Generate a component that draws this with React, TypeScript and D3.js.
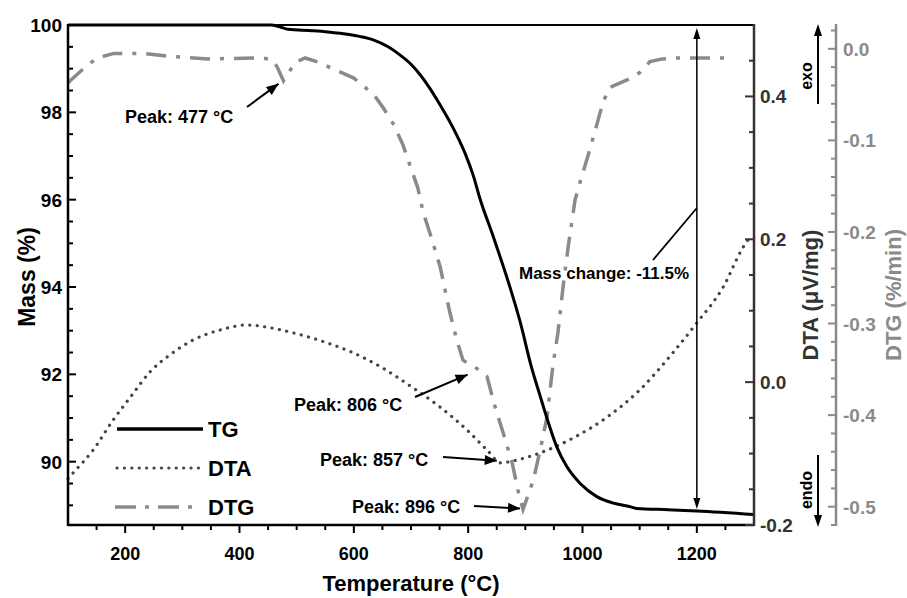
import React from 'react';
import * as d3 from 'd3';

// ---- data ----
const tgTemp = [100, 400, 455, 470, 485, 530, 576, 610, 634, 660, 681, 700, 716, 733, 751, 766, 780, 795, 809, 820, 844, 873, 891, 910, 926, 937, 955, 972, 996, 1025, 1054, 1080, 1095, 1150, 1200, 1300];
const tgMass = [100, 100, 100, 99.96, 99.9, 99.87, 99.81, 99.74, 99.66, 99.5, 99.31, 99.1, 98.86, 98.55, 98.17, 97.83, 97.48, 97.05, 96.55, 96.05, 95.15, 94.0, 93.2, 92.2, 91.5, 91.03, 90.34, 89.9, 89.5, 89.2, 89.05, 88.98, 88.93, 88.9, 88.87, 88.79];

const dtaTemp = [100, 109, 144, 179, 212, 243, 278, 319, 366, 413, 448, 494, 553, 599, 650, 698, 751, 798, 833, 857, 880, 926, 984, 1043, 1100, 1158, 1200, 1246, 1281, 1295];
const dtaVal = [-0.135, -0.127, -0.095, -0.053, -0.018, 0.014, 0.038, 0.059, 0.073, 0.08, 0.077, 0.069, 0.055, 0.041, 0.02, -0.005, -0.035, -0.067, -0.095, -0.113, -0.11, -0.099, -0.078, -0.049, -0.011, 0.041, 0.083, 0.133, 0.189, 0.205];

const dtgTemp = [100, 130, 151, 180, 230, 275, 345, 440, 458, 466, 477, 490, 500, 515, 540, 560, 600, 635, 652, 670, 686, 698, 712, 721, 735, 751, 768, 780, 791, 806, 815, 833, 847, 861, 877, 887, 896, 905, 914, 926, 938, 948, 957, 966, 975, 987, 996, 1010, 1025, 1036, 1048, 1078, 1100, 1118, 1140, 1165, 1205, 1255];
const dtgVal = [-0.037, -0.02, -0.01, -0.005, -0.005, -0.008, -0.011, -0.01, -0.012, -0.02, -0.035, -0.022, -0.014, -0.01, -0.015, -0.021, -0.032, -0.05, -0.065, -0.083, -0.105, -0.127, -0.152, -0.178, -0.205, -0.238, -0.288, -0.318, -0.34, -0.346, -0.349, -0.358, -0.391, -0.419, -0.452, -0.482, -0.503, -0.487, -0.471, -0.438, -0.402, -0.347, -0.31, -0.26, -0.216, -0.165, -0.145, -0.116, -0.083, -0.058, -0.042, -0.034, -0.026, -0.014, -0.011, -0.01, -0.01, -0.01];

const xTickValues = [200, 400, 600, 800, 1000, 1200];
const massTickValues = [90, 92, 94, 96, 98, 100];
const dtaTickValues = [-0.2, 0, 0.2, 0.4];
const dtgTickValues = [0, -0.1, -0.2, -0.3, -0.4, -0.5];
const legendNames = ['TG', 'DTA', 'DTG'];
const peakTemps = [477, 806, 857, 896];
const peakLabels = ['Peak: 477 °C', 'Peak: 806 °C', 'Peak: 857 °C', 'Peak: 896 °C'];
const massChangeLabel = 'Mass change: -11.5%';

const W = 907, H = 598;
const L = 68, R = 754, T = 25, B = 525;
const DTG_AXIS_X = 836;
const FONT = "'Liberation Sans', Arial, sans-serif";
const DTG_COLOR = '#8a8a8a';
const DTA_COLOR = '#454545';
const DTA_AXIS = '#333333';

const x = d3.scaleLinear().domain([100, 1300]).range([L, R]);
const yTG = d3.scaleLinear().domain([88.55, 100]).range([B, T]);
const yDTA = d3.scaleLinear().domain([-0.2, 0.5]).range([B, T]);
const yDTG = d3.scaleLinear().domain([-0.52, 0.026]).range([B, T]);

const fmt1 = (v: number) => (Math.abs(v) < 1e-9 ? '0.0' : v.toFixed(1));

function arrowHead(x1: number, y1: number, x2: number, y2: number, len = 11, half = 4.5) {
  const a = Math.atan2(y2 - y1, x2 - x1);
  const bx = x2 - len * Math.cos(a), by = y2 - len * Math.sin(a);
  const px = -Math.sin(a) * half, py = Math.cos(a) * half;
  return `M${x2},${y2}L${bx + px},${by + py}L${bx - px},${by - py}Z`;
}

export default function App() {
  const tgData = tgTemp.map((t, i) => [t, tgMass[i]] as [number, number]);
  const dtaData = dtaTemp.map((t, i) => [t, dtaVal[i]] as [number, number]);
  const dtgData = dtgTemp.map((t, i) => [t, dtgVal[i]] as [number, number]);

  const tgLine = d3.line<[number, number]>().x(d => x(d[0])).y(d => yTG(d[1])).curve(d3.curveMonotoneX)(tgData) || '';
  const dtaLine = d3.line<[number, number]>().x(d => x(d[0])).y(d => yDTA(d[1])).curve(d3.curveMonotoneX)(dtaData) || '';
  const dtgLine = d3.line<[number, number]>().x(d => x(d[0])).y(d => yDTG(d[1])).curve(d3.curveLinear)(dtgData) || '';

  const xMinor = d3.range(150, 1300, 50).filter(v => v % 200 !== 0);
  const massMinor = d3.range(89, 100, 0.5).filter(v => Math.abs(v % 2) > 1e-6);
  const dtaMinor = d3.range(-0.15, 0.49, 0.05).filter(v => Math.abs(Math.round(v * 5) - v * 5) > 1e-6);
  const dtgMinor = d3.range(-0.52, 0.03, 0.02).filter(v => Math.abs(Math.round(v * 10) - v * 10) > 1e-6);

  const dtgAt = (t: number) => dtgVal[dtgTemp.indexOf(t)];
  const dtaAt = (t: number) => dtaVal[dtaTemp.indexOf(t)];
  const tips = [
    [x(peakTemps[0]) - 5, yDTG(dtgAt(477)) + 3],
    [x(peakTemps[1]) - 4, yDTG(dtgAt(806)) + 9],
    [x(peakTemps[2]) - 4, yDTA(dtaAt(857)) - 2],
    [x(peakTemps[3]) - 3, yDTG(dtgAt(896)) - 1],
  ];
  const tails = [[247, 107], [415, 397], [443, 457], [474, 506]];
  const textPos = [[125, 123], [294, 411], [320, 466], [352, 513]];

  const mcX = x(1200);
  const mcTop = T + 3;
  const mcBot = yTG(88.87) - 2;

  return (
    <svg width={W} height={H} style={{ position: 'absolute', left: 0, top: 0, background: '#fff' }} fontFamily={FONT}>
      <rect x={0} y={0} width={W} height={H} fill="#fff" />
      <path d={dtgLine} fill="none" stroke={DTG_COLOR} strokeWidth={3.5} strokeDasharray="20,10,4,10" />
      <path d={dtaLine} fill="none" stroke={DTA_COLOR} strokeWidth={3.2} strokeDasharray="0.1,7.4" strokeLinecap="round" />
      <path d={tgLine} fill="none" stroke="#000" strokeWidth={3} />

      <line x1={L} y1={T} x2={R} y2={T} stroke="#000" strokeWidth={2.2} />
      <line x1={L} y1={B} x2={R} y2={B} stroke="#000" strokeWidth={2.5} />
      <line x1={L} y1={T - 1} x2={L} y2={B + 1} stroke="#000" strokeWidth={2.5} />
      <line x1={R} y1={T - 1} x2={R} y2={B + 1} stroke={DTA_AXIS} strokeWidth={2.5} />

      {xTickValues.map(v => (
        <g key={'xt' + v}>
          <line x1={x(v)} y1={B} x2={x(v)} y2={B + 8} stroke="#000" strokeWidth={2} />
          <text x={x(v)} y={560} textAnchor="middle" fontSize={18} fontWeight="bold">{v}</text>
        </g>
      ))}
      {xMinor.map(v => (
        <line key={'xm' + v} x1={x(v)} y1={B} x2={x(v)} y2={B + 5} stroke="#000" strokeWidth={2} />
      ))}
      <text x={(L + R) / 2} y={591} textAnchor="middle" fontSize={22} fontWeight="bold">Temperature (°C)</text>

      {massTickValues.map(v => (
        <g key={'mt' + v}>
          <line x1={L} y1={yTG(v)} x2={L + 8} y2={yTG(v)} stroke="#000" strokeWidth={2} />
          <text x={62} y={yTG(v) + 7} textAnchor="end" fontSize={19} fontWeight="bold">{v}</text>
        </g>
      ))}
      {massMinor.map(v => (
        <line key={'mm' + v} x1={L} y1={yTG(v)} x2={L + 5} y2={yTG(v)} stroke="#000" strokeWidth={2} />
      ))}
      <text transform={`translate(35,${(T + B) / 2 + 2}) rotate(-90)`} textAnchor="middle" fontSize={23} fontWeight="bold">Mass (%)</text>

      {dtaTickValues.map(v => (
        <g key={'dt' + v}>
          <line x1={R} y1={yDTA(v)} x2={R - 9} y2={yDTA(v)} stroke={DTA_AXIS} strokeWidth={2} />
          <text x={760} y={yDTA(v) + 7} textAnchor="start" fontSize={19} fontWeight="bold" fill={DTA_AXIS}>{fmt1(v)}</text>
        </g>
      ))}
      {dtaMinor.map(v => (
        <line key={'dm' + v} x1={R} y1={yDTA(v)} x2={R - 5} y2={yDTA(v)} stroke={DTA_AXIS} strokeWidth={2} />
      ))}
      <text transform={`translate(818,295) rotate(-90)`} textAnchor="middle" fontSize={22} fontWeight="bold" fill={DTA_AXIS}>DTA (μV/mg)</text>

      <line x1={818} y1={104} x2={818} y2={34} stroke="#000" strokeWidth={2} />
      <path d={arrowHead(818, 104, 818, 24, 12, 4)} fill="#000" />
      <text transform={`translate(812,76) rotate(-90)`} textAnchor="middle" fontSize={16} fontWeight="bold">exo</text>
      <line x1={818} y1={455} x2={818} y2={516} stroke="#000" strokeWidth={2} />
      <path d={arrowHead(818, 455, 818, 527, 12, 4)} fill="#000" />
      <text transform={`translate(812,490) rotate(-90)`} textAnchor="middle" fontSize={16} fontWeight="bold">endo</text>

      <line x1={DTG_AXIS_X} y1={T - 1} x2={DTG_AXIS_X} y2={B + 1} stroke={DTG_COLOR} strokeWidth={2.5} />
      {dtgTickValues.map(v => (
        <g key={'gt' + v}>
          <line x1={DTG_AXIS_X} y1={yDTG(v)} x2={DTG_AXIS_X - 8} y2={yDTG(v)} stroke={DTG_COLOR} strokeWidth={2} />
          <text x={843} y={yDTG(v) + 7} textAnchor="start" fontSize={19} fontWeight="bold" fill={DTG_COLOR}>{fmt1(v)}</text>
        </g>
      ))}
      {dtgMinor.map(v => (
        <line key={'gm' + v} x1={DTG_AXIS_X} y1={yDTG(v)} x2={DTG_AXIS_X - 5} y2={yDTG(v)} stroke={DTG_COLOR} strokeWidth={2} />
      ))}
      <text transform={`translate(901,295) rotate(-90)`} textAnchor="middle" fontSize={22} fontWeight="bold" fill={DTG_COLOR}>DTG (%/min)</text>

      {peakLabels.map((lab, i) => (
        <g key={'pk' + i}>
          <text x={textPos[i][0]} y={textPos[i][1]} fontSize={18} fontWeight="bold">{lab}</text>
          <line x1={tails[i][0]} y1={tails[i][1]} x2={tips[i][0]} y2={tips[i][1]} stroke="#000" strokeWidth={2} />
          <path d={arrowHead(tails[i][0], tails[i][1], tips[i][0], tips[i][1], 12, 5)} fill="#000" />
        </g>
      ))}

      <line x1={mcX} y1={mcTop + 6} x2={mcX} y2={mcBot - 6} stroke="#000" strokeWidth={1.5} />
      <path d={arrowHead(mcX, mcBot, mcX, mcTop, 11, 3.5)} fill="#000" />
      <path d={arrowHead(mcX, mcTop, mcX, mcBot, 11, 3.5)} fill="#000" />
      <line x1={653} y1={260} x2={mcX} y2={208} stroke="#000" strokeWidth={1.8} />
      <text x={519} y={279} fontSize={17} fontWeight="bold">{massChangeLabel}</text>

      {legendNames.map((n, i) => {
        const ly = 429 + i * 39;
        return (
          <g key={'lg' + n}>
            {i === 0 && <line x1={117} y1={ly} x2={203} y2={ly} stroke="#000" strokeWidth={3.5} />}
            {i === 1 && <line x1={117} y1={ly} x2={199} y2={ly} stroke={DTA_COLOR} strokeWidth={3.2} strokeDasharray="0.1,7.3" strokeLinecap="round" />}
            {i === 2 && <line x1={115} y1={ly} x2={199} y2={ly} stroke={DTG_COLOR} strokeWidth={3.5} strokeDasharray="21,9,4,9" />}
            <text x={208} y={ly + 8} fontSize={22} fontWeight="bold">{n}</text>
          </g>
        );
      })}
    </svg>
  );
}
